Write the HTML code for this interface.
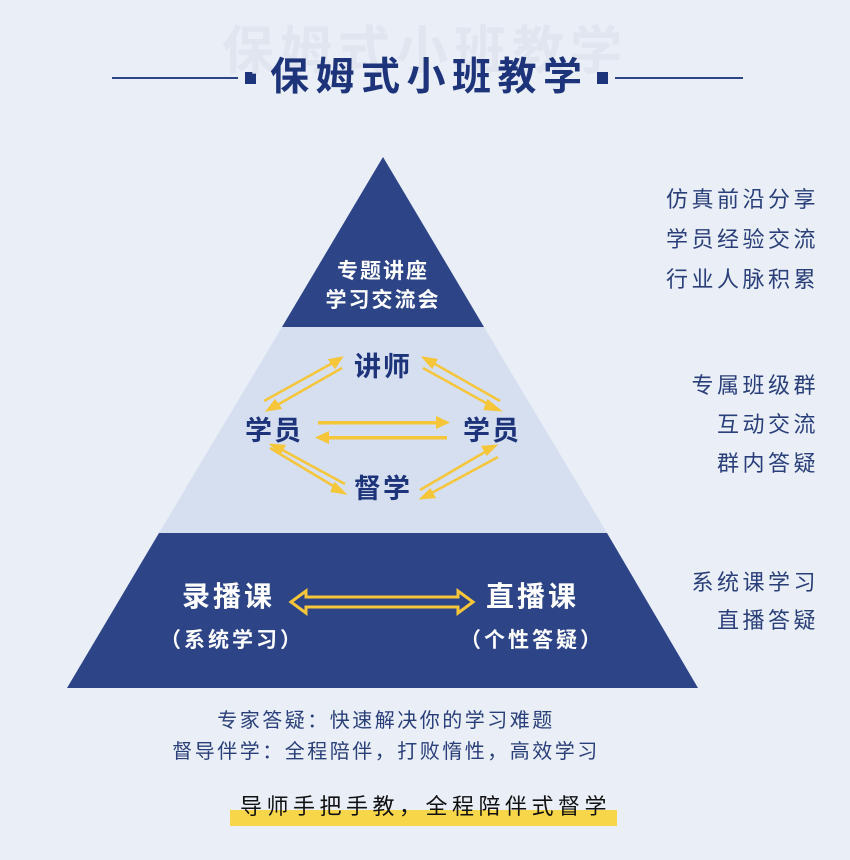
<!DOCTYPE html>
<html><head><meta charset="utf-8"><style>
body{margin:0;width:850px;height:860px;background:#e9eef7;position:relative;overflow:hidden;font-family:"Liberation Sans","Noto Sans CJK SC",sans-serif}
.t{position:absolute;white-space:nowrap;line-height:1}
.r{right:31px;text-align:right;font-size:22px;color:#2a3f7a;letter-spacing:3.5px}
</style></head><body>
<svg width="850" height="860" style="position:absolute;left:0;top:0">
<polygon points="383,157 484,327 282,327" fill="#2d4486"/>
<polygon points="282,327 484,327 607,533 159,533" fill="#d5dff0"/>
<polygon points="159,533 607,533 698,688 67,688" fill="#2d4486"/>
<line x1="112" y1="78" x2="238" y2="78" stroke="#2d4486" stroke-width="2"/>
<line x1="615" y1="78" x2="743" y2="78" stroke="#2d4486" stroke-width="2"/>
<rect x="245" y="72" width="11" height="12" fill="#1e347a"/>
<rect x="597" y="72" width="11" height="12" fill="#1e347a"/>
<rect x="230" y="810" width="387" height="16" fill="#f7d64a"/>
<g stroke="#f5c53a" stroke-width="2.5" fill="#f5c53a">
<line x1="264" y1="401" x2="338" y2="360"/><polygon points="341,358 330,360 335,367" />
<line x1="342" y1="368" x2="272" y2="408"/><polygon points="268,410 280,408 275,401"/>
<line x1="423" y1="368" x2="495" y2="408"/><polygon points="499,410 488,401 485,409"/>
<line x1="500" y1="401" x2="428" y2="360"/><polygon points="424,358 432,367 436,360"/>
<line x1="270" y1="448" x2="340" y2="490"/><polygon points="344,493 335,484 332,491"/>
<line x1="345" y1="484" x2="275" y2="446"/><polygon points="272,445 280,453 284,446"/>
<line x1="420" y1="490" x2="490" y2="449"/><polygon points="495,446 483,447 487,454"/>
<line x1="498" y1="457" x2="426" y2="496"/><polygon points="422,498 434,497 430,490"/>
</g>
<g fill="#f5c53a">
<rect x="318" y="421" width="124" height="3.5"/><polygon points="450,422.5 436,416 436,429"/>
<rect x="323" y="436" width="124" height="3.5"/><polygon points="315,437.5 329,431 329,444"/>
</g>
<g fill="none" stroke="#f5c53a" stroke-width="3" stroke-linejoin="miter">
<polygon points="291,602 306,591 306,597 458,597 458,591 473,602 458,613 458,607 306,607 306,613"/>
</g>
</svg>
<div class="t" style="left:200px;top:26px;width:450px;text-align:center;font-size:52px;font-weight:bold;color:#e0e5ef;letter-spacing:6px">保姆式小班教学</div>
<div class="t" style="left:270px;top:58px;font-size:39px;font-weight:bold;color:#1e347a;letter-spacing:6.5px">保姆式小班教学</div>
<div class="t" style="left:283px;top:257px;width:200px;text-align:center;font-size:21px;font-weight:bold;color:#fff;line-height:29px;letter-spacing:2px">专题讲座<br>学习交流会</div>
<div class="t" style="left:343px;top:354px;width:80px;text-align:center;font-size:27px;font-weight:bold;color:#1e347a;letter-spacing:2px">讲师</div>
<div class="t" style="left:234px;top:418px;width:80px;text-align:center;font-size:27px;font-weight:bold;color:#1e347a;letter-spacing:2px">学员</div>
<div class="t" style="left:452px;top:418px;width:80px;text-align:center;font-size:27px;font-weight:bold;color:#1e347a;letter-spacing:2px">学员</div>
<div class="t" style="left:343px;top:476px;width:80px;text-align:center;font-size:27px;font-weight:bold;color:#1e347a;letter-spacing:2px">督学</div>
<div class="t" style="left:182px;top:583px;font-size:28px;font-weight:bold;color:#fff;letter-spacing:3px">录播课</div>
<div class="t" style="left:486px;top:583px;font-size:28px;font-weight:bold;color:#fff;letter-spacing:3px">直播课</div>
<div class="t" style="left:160px;top:630px;font-size:21px;font-weight:bold;color:#fff;letter-spacing:3px">（系统学习）</div>
<div class="t" style="left:460px;top:630px;font-size:21px;font-weight:bold;color:#fff;letter-spacing:3px">（个性答疑）</div>
<div class="t r" style="top:180px;line-height:40px">仿真前沿分享<br>学员经验交流<br>行业人脉积累</div>
<div class="t r" style="top:366px;line-height:39px">专属班级群<br>互动交流<br>群内答疑</div>
<div class="t r" style="top:564px;line-height:38px">系统课学习<br>直播答疑</div>
<div class="t" style="left:0;width:772px;top:706px;text-align:center;font-size:20px;color:#2a3f7a;letter-spacing:2.5px;line-height:31px">专家答疑：快速解决你的学习难题<br>督导伴学：全程陪伴，打败惰性，高效学习</div>
<div class="t" style="left:240px;top:796px;font-size:22px;color:#111;letter-spacing:4.5px">导师手把手教，全程陪伴式督学</div>
</body></html>
